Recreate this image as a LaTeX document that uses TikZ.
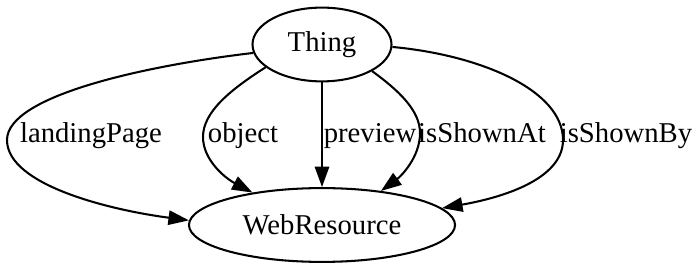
\documentclass[tikz,border=0pt]{standalone}
\usepackage{fontspec}
\setmainfont{Liberation Serif}
\usetikzlibrary{shapes.geometric,arrows.meta}

\begin{document}
\begin{tikzpicture}[x=0.4878pt,y=-0.4878pt,
    cls/.style={ellipse,draw,line width=1pt,inner sep=0pt,minimum height=36pt,font=\fontsize{14}{16}\selectfont},
    rel/.style={line width=1pt,-{Triangle[length=10pt,width=7pt]}},
    lbl/.style={anchor=base,inner sep=0pt,font=\fontsize{14}{16}\selectfont}]
  \useasboundingbox (0,0) rectangle (700,270);
  \node[cls,minimum width=67.8pt] (thing) at (322,44.5) {Thing};
  \node[cls,minimum width=129.8pt] (web) at (322,225) {WebResource};
  % edges, left to right
  \draw[rel] (thing.187) .. controls (150,65) and (7,95) .. (7,140)
    .. controls (7,185) and (110,210) .. (web.178);
  \draw[rel] (thing.202) .. controls (230,90) and (203,112) .. (203,137)
    .. controls (203,160) and (225,178) .. (web.155);
  \draw[rel] (thing.270) -- (web.90);
  \draw[rel] (thing.332) .. controls (398,90) and (420,110) .. (420,133)
    .. controls (420,158) and (400,177) .. (web.30);
  \draw[rel] (thing.358) .. controls (480,55) and (563,90) .. (563,140)
    .. controls (563,180) and (500,198) .. (web.8);
  \node[lbl] (l1) at (91,143) {landingPage};
  \node[lbl] (l2) at (243,143) {object};
  \node[lbl] (l3) at (370,143) {preview};
  \node[lbl] (l4) at (482,143) {isShownAt};
  \node[lbl] (l5) at (626,143) {isShownBy};
\end{tikzpicture}
\end{document}
